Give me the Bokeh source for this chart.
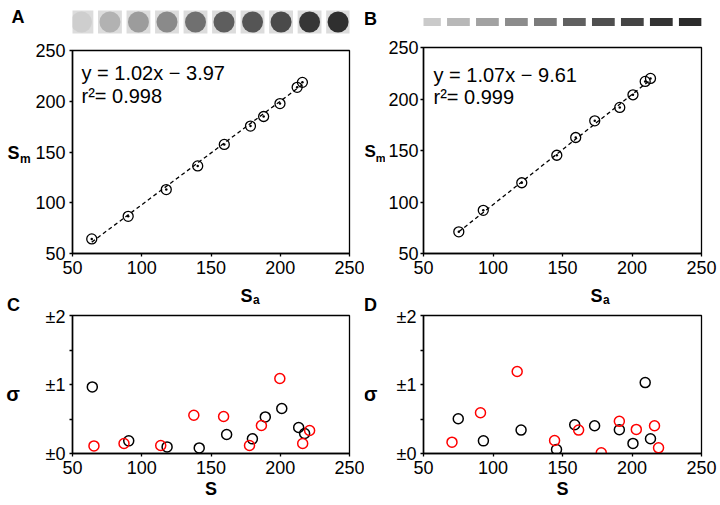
from bokeh.plotting import figure
from bokeh.layouts import column, row
from bokeh.models import Label, FixedTicker, Range1d
from bokeh.embed import file_html
from bokeh.resources import INLINE

FONT = "Liberation Sans"

# ---------------- data ----------------
# Panel A (dot blots)
sa_A = [63.9, 90.2, 117.7, 140.4, 159.6, 178.5, 188.0, 199.8, 212.2, 216.0]
sm_A = [64.4, 86.6, 113.0, 136.3, 157.5, 175.5, 185.0, 197.7, 213.7, 218.6]
fit_A = (1.02, -3.97)
r2_A = 0.998
# Panel B (bands)
sa_B = [75.4, 93.0, 120.7, 145.9, 159.5, 173.2, 191.2, 200.7, 209.5, 213.3]
sm_B = [71.0, 91.9, 118.7, 145.4, 162.6, 178.8, 191.8, 204.1, 217.1, 220.0]
fit_B = (1.07, -9.61)
r2_B = 0.999
# Panel C
c_black_s = [64.3, 90.6, 118.3, 141.5, 161.3, 179.9, 189.2, 201.1, 213.3, 217.6]
c_black_sigma = [0.965, 0.183, 0.096, 0.081, 0.275, 0.212, 0.53, 0.652, 0.377, 0.29]
c_red_s = [65.5, 87.2, 113.7, 137.6, 159.1, 177.8, 186.4, 199.7, 216.2, 221.2]
c_red_sigma = [0.11, 0.145, 0.116, 0.555, 0.536, 0.116, 0.405, 1.087, 0.145, 0.333]
# Panel D
d_black_s = [75.0, 93.1, 120.2, 145.7, 158.8, 173.1, 190.9, 200.7, 209.5, 213.3]
d_black_sigma = [0.504, 0.183, 0.339, 0.058, 0.416, 0.402, 0.344, 0.146, 1.028, 0.213]
d_red_s = [70.5, 91.0, 117.4, 144.3, 161.6, 177.9, 190.9, 203.1, 216.2, 219.1]
d_red_sigma = [0.164, 0.591, 1.188, 0.189, 0.339, 0.01, 0.466, 0.349, 0.402, 0.082]

top_ticks = [50, 100, 150, 200, 250]
sigma_ticks = [0, 1, 2]
sigma_minor = [0.5, 1.5]
sigma_labels = {0: "±0", 1: "±1", 2: "±2"}

swatch_idx = [1, 2, 3, 4, 5, 6, 7, 8, 9, 10]
dot_grays = ["#cecece", "#b2b2b2", "#9c9c9c", "#8a8a8a", "#707070",
             "#5e5e5e", "#555555", "#4a4a4a", "#363636", "#2f2f2f"]
band_grays = ["#cacaca", "#b8b8b8", "#a2a2a2", "#8c8c8c", "#7b7b7b",
              "#606060", "#4f4f4f", "#444444", "#333333", "#2b2b2b"]


def label(fig, fx0, fy0, px, py, text, size, bold=False, align="left", base=None, color="black"):
    """Place a label at page position (px, py) = middle of the text; if base is given it is the
    page y of the alphabetic baseline.  (fx0, fy0) = page pos of the frame's bottom-left."""
    if base is not None:
        py = base - 0.3465 * size
    fig.add_layout(Label(x=px - fx0, y=fy0 - py, x_units="screen", y_units="screen",
                         text=text, text_font=FONT, text_font_size=f"{size}px",
                         text_font_style="bold" if bold else "normal",
                         text_align=align, text_baseline="middle", text_color=color))


def bare_fig(width, height, left=0, right=0, xr=(0, 1), yr=(0, 1)):
    p = figure(width=width, height=height, x_range=Range1d(*xr), y_range=Range1d(*yr),
               title=None, output_backend="svg", toolbar_location=None,
               x_axis_location=None, y_axis_location=None,
               min_border_left=left, min_border_right=right,
               min_border_top=0, min_border_bottom=0)
    p.grid.visible = False
    p.outline_line_color = None
    p.background_fill_color = "white"
    p.border_fill_color = "white"
    return p


def make_fig(width, height, left, right, top, bottom, xr, yr, y_standoff=4):
    p = figure(width=width, height=height, x_range=Range1d(*xr), y_range=Range1d(*yr),
               title=None, output_backend="svg", toolbar_location=None,
               min_border_left=left, min_border_right=right,
               min_border_top=top, min_border_bottom=bottom)
    p.grid.visible = False
    p.outline_line_color = "black"
    p.outline_line_width = 1.3
    p.outline_line_alpha = 1.0
    p.background_fill_color = "white"
    p.border_fill_color = "white"
    for ax in (p.xaxis[0], p.yaxis[0]):
        ax.axis_line_width = 1.5
        ax.axis_line_color = "black"
        ax.major_tick_line_color = "black"
        ax.major_tick_line_width = 1.3
        ax.major_tick_in = 0
        ax.major_tick_out = 3
        ax.minor_tick_line_color = None
        ax.major_label_text_font = FONT
        ax.major_label_text_font_size = "18px"
        ax.major_label_text_color = "black"
        ax.major_label_standoff = 4
    p.yaxis.major_label_standoff = y_standoff
    p.xaxis.ticker = FixedTicker(ticks=top_ticks)
    return p


# ---------------- side text columns ----------------
tL = bare_fig(32, 505)
label(tL, 0, 505, 17.5, 16, "A", 18, bold=True, align="center")
label(tL, 0, 505, 7, 0, "S", 18, bold=True, base=158.5)
label(tL, 0, 505, 19.5, 0, "m", 12, bold=True, base=162.5)
label(tL, 0, 505, 13, 304, "C", 18, bold=True, align="center")
label(tL, 0, 505, 12.5, 0, "σ", 20, bold=True, align="center", base=400)

tR = bare_fig(21, 505)
label(tR, 364, 505, 370, 18, "B", 18, bold=True, align="center")
label(tR, 364, 505, 364, 0, "S", 17, bold=True, base=157)
label(tR, 364, 505, 375.3, 0, "m", 11, bold=True, base=161)
label(tR, 364, 505, 370, 304, "D", 18, bold=True, align="center")
label(tR, 364, 505, 370, 0, "σ", 20, bold=True, align="center", base=400)

# ---------------- strips ----------------
sA = bare_fig(332, 36, 38, 15, (0.687, 10.40), (0, 1))
sA.rect(x=swatch_idx, y=0.4028, width=0.836, height=0.639, fill_color="#dcdcdc", line_color=None)
sA.scatter(x=swatch_idx, y=0.4028, size=21, marker="circle", fill_color=dot_grays, line_color=None)

sB = bare_fig(335, 36, 35, 19, (0.795, 10.386), (0, 1))
sB.rect(x=swatch_idx, y=0.4028, width=0.785, height=0.222, fill_color=band_grays, line_color=None)


# ---------------- A / B ----------------
def top_panel(p, sa, sm, fit, r2, fx0, fy0, eq_x, eq_b1, eq_b2):
    a, b = fit
    x0, x1 = min(sa), max(sa)
    p.line([x0, x1], [a * x0 + b, a * x1 + b], line_dash="4 3", line_width=1.3, line_color="black")
    p.scatter(sa, sm, size=10, marker="circle", fill_color=None, line_color="black", line_width=1.3)
    p.scatter(sa, sm, size=2.5, marker="circle", fill_color="black", line_color=None)
    p.yaxis.ticker = FixedTicker(ticks=top_ticks)
    sign = "−" if b < 0 else "+"
    label(p, fx0, fy0, eq_x, 0, f"y = {a:.2f}x {sign} {abs(b):.2f}", 20, base=eq_b1)
    label(p, fx0, fy0, eq_x, 0, f"r²= {r2:.3f}", 20, base=eq_b2)


pA = make_fig(332, 250, 38, 15, 14, 33, (50, 250), (50, 250))
top_panel(pA, sa_A, sm_A, fit_A, r2_A, 70, 253, 79, 79.5, 102.5)

pB = make_fig(335, 250, 35, 19, 11, 33, (50, 250), (50, 250), y_standoff=2)
top_panel(pB, sa_B, sm_B, fit_B, r2_B, 420, 253, 430, 81, 103.5)

# ---------------- middle text strips (S_a) ----------------
mA = bare_fig(332, 20)
label(mA, 32, 306, 200, 0, "S", 18, bold=True, base=302)
label(mA, 32, 306, 212.5, 0, "a", 12, bold=True, base=303.5)

mB = bare_fig(335, 20)
label(mB, 385, 306, 552, 0, "S", 18, bold=True, base=302)
label(mB, 385, 306, 564.5, 0, "a", 12, bold=True, base=303.5)


# ---------------- C / D ----------------
def bottom_panel(p, bs, bsig, rs, rsig):
    p.yaxis.ticker = FixedTicker(ticks=sigma_ticks, minor_ticks=sigma_minor)
    p.yaxis.major_label_overrides = sigma_labels
    p.yaxis.minor_tick_line_color = "black"
    p.yaxis.minor_tick_line_width = 1.3
    p.yaxis.minor_tick_in = 0
    p.yaxis.minor_tick_out = 3
    p.xaxis.axis_label = "S"
    p.xaxis.axis_label_text_font = FONT
    p.xaxis.axis_label_text_font_size = "18px"
    p.xaxis.axis_label_text_font_style = "bold"
    p.xaxis.axis_label_text_color = "black"
    p.xaxis.axis_label_standoff = 2
    p.scatter(bs, bsig, size=10, marker="circle", fill_color=None, line_color="black", line_width=1.5)
    p.scatter(rs, rsig, size=10, marker="circle", fill_color=None, line_color="#ff0000", line_width=1.5)


pC = make_fig(332, 199, 38, 15, 9, 52, (50, 250), (0, 2))
bottom_panel(pC, c_black_s, c_black_sigma, c_red_s, c_red_sigma)

pD = make_fig(335, 199, 33, 19, 9, 52, (50, 250), (0, 2))
bottom_panel(pD, d_black_s, d_black_sigma, d_red_s, d_red_sigma)

layout = row(tL, column(sA, pA, mA, pC), tR, column(sB, pB, mB, pD))

with open("out.html", "w") as f:
    f.write(file_html(layout, INLINE))
